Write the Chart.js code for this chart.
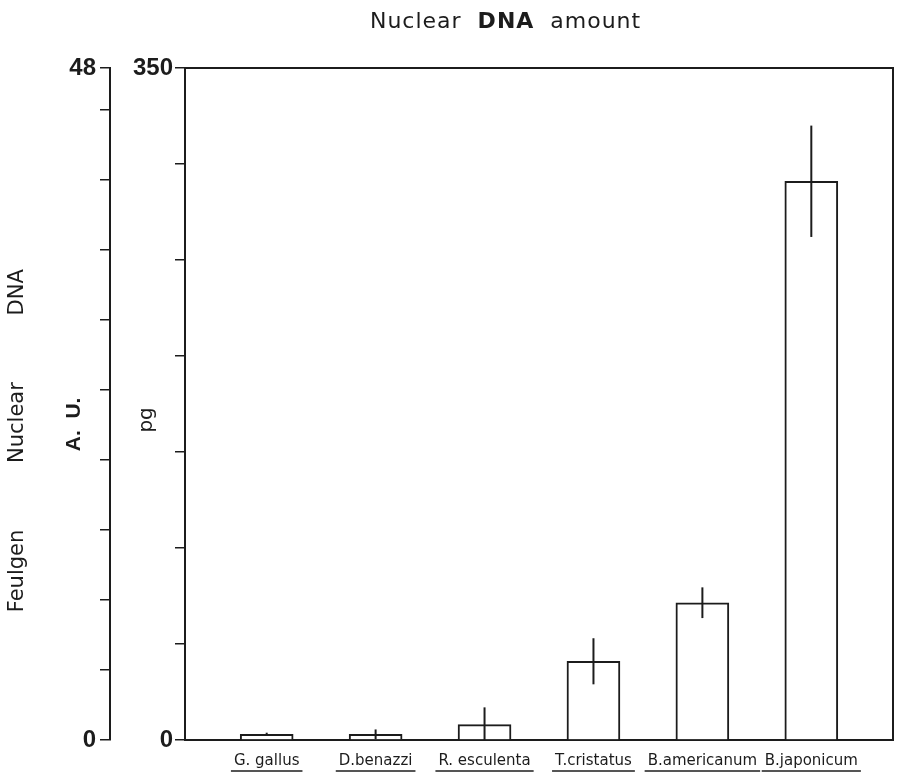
<!DOCTYPE html>
<html lang="en">
<head>
    <title>Nuclear DNA amount</title>
    <style>
        body { margin: 0; background: #fff; }
    </style>
</head>
<body>
<canvas id="dnaChart" width="898" height="774"></canvas>

<script src="https://cdn.jsdelivr.net/npm/chart.js"></script>
<script>
    // values (pg per nucleus)
    var species = ['G. gallus', 'D.benazzi', 'R. esculenta', 'T.cristatus', 'B.americanum', 'B.japonicum'];
    var dnaPg = [3, 3, 8, 41, 71.5, 291];
    var errPg = [0.8, 2.5, 9, 12, 8, 29];
    var pgTicks = [0, 50, 100, 150, 200, 250, 300, 350];
    var auTicks = [0, 5, 10, 15, 20, 25, 30, 35, 40, 45, 48];
    var pgLabels = [0, 350];
    var auLabels = [0, 48];

    var ink = '#1c1c1c';
    var sans = "'DejaVu Sans', sans-serif";
    var arial = "'Liberation Sans', Arial, sans-serif";
    var labelPad = 4;

    var barData = species.map(function (s, i) { return { x: i, y: dnaPg[i] }; });

    // error bars, box top/right, underlined species names, title
    var extras = {
        id: 'extras',
        afterDatasetsDraw: function (chart) {
            var ctx = chart.ctx, y = chart.scales.y;
            var meta = chart.getDatasetMeta(0);
            ctx.save();
            ctx.strokeStyle = ink;
            ctx.lineWidth = 2;
            meta.data.forEach(function (bar, i) {
                ctx.beginPath();
                ctx.moveTo(bar.x, y.getPixelForValue(dnaPg[i] + errPg[i]));
                ctx.lineTo(bar.x, y.getPixelForValue(Math.max(0, dnaPg[i] - errPg[i])));
                ctx.stroke();
            });
            var a = chart.chartArea;
            ctx.beginPath();
            ctx.moveTo(a.left, a.top);
            ctx.lineTo(a.right, a.top);
            ctx.lineTo(a.right, a.bottom);
            ctx.stroke();
            ctx.restore();
        },
        afterDraw: function (chart) {
            var ctx = chart.ctx, x = chart.scales.x;
            ctx.save();
            ctx.strokeStyle = ink;
            ctx.lineWidth = 1.5;
            ctx.font = '15px ' + sans;
            species.forEach(function (s, i) {
                var w = ctx.measureText(s).width;
                var px = x.getPixelForValue(i);
                var py = x.top + labelPad + 27;
                ctx.beginPath();
                ctx.moveTo(px - w / 2 - 3, py);
                ctx.lineTo(px + w / 2 + 3, py);
                ctx.stroke();
            });
            // title with bold DNA
            ctx.letterSpacing = '1px';
            var parts = [['Nuclear  ', 'normal'], ['DNA', 'bold'], ['  amount', 'normal']];
            var total = 0;
            parts.forEach(function (p) {
                ctx.font = p[1] + ' 22px ' + sans;
                p.push(ctx.measureText(p[0]).width);
                total += p[2];
            });
            var cx = chart.width * 0.563 - total / 2;
            ctx.fillStyle = ink;
            ctx.textBaseline = 'middle';
            parts.forEach(function (p) {
                ctx.font = p[1] + ' 22px ' + sans;
                ctx.fillText(p[0], cx, 22);
                cx += p[2];
            });
            ctx.restore();
        }
    };

    var chart = new Chart(document.getElementById('dnaChart'), {
        type: 'bar',
        data: {
            datasets: [{
                data: barData,
                backgroundColor: '#fff',
                borderColor: ink,
                borderWidth: 2,
                barThickness: 53,
                yAxisID: 'y'
            }]
        },
        options: {
            responsive: false,
            animation: false,
            layout: { padding: { top: 68, right: 5, bottom: 0, left: 0 } },
            plugins: { legend: { display: false }, tooltip: { enabled: false } },
            scales: {
                x: {
                    type: 'linear',
                    offset: false,
                    min: -0.75,
                    max: 5.75,
                    afterBuildTicks: function (ax) {
                        ax.ticks = species.map(function (s, i) { return { value: i }; });
                    },
                    afterFit: function (ax) { ax.height = 34; },
                    grid: { display: false },
                    border: { display: true, color: ink, width: 2 },
                    ticks: {
                        padding: labelPad,
                        maxRotation: 0,
                        autoSkip: false,
                        color: ink,
                        font: { family: sans, size: 15 },
                        callback: function (v) { return species[v]; }
                    }
                },
                y: {
                    type: 'linear',
                    position: 'left',
                    weight: 0,
                    min: 0,
                    max: 350,
                    afterBuildTicks: function (ax) {
                        ax.ticks = pgTicks.map(function (v) { return { value: v }; });
                    },
                    afterFit: function (ax) { ax.width = 75; },
                    grid: { drawOnChartArea: false, tickLength: 10, color: ink, lineWidth: 1.5 },
                    border: { color: ink, width: 2 },
                    ticks: {
                        padding: 2,
                        color: ink,
                        font: { family: arial, size: 24, weight: 'bold' },
                        callback: function (v) { return pgLabels.indexOf(v) >= 0 ? v : ''; }
                    },
                    title: {
                        display: true,
                        text: 'pg     ',
                        color: ink,
                        font: { family: sans, size: 20 },
                        padding: { top: 25, bottom: 0 }
                    }
                },
                au: {
                    type: 'linear',
                    position: 'left',
                    weight: 1,
                    min: 0,
                    max: 48,
                    afterBuildTicks: function (ax) {
                        ax.ticks = auTicks.map(function (v) { return { value: v }; });
                    },
                    afterFit: function (ax) { ax.width = 65; },
                    grid: { drawOnChartArea: false, tickLength: 10, color: ink, lineWidth: 1.5 },
                    border: { color: ink, width: 2 },
                    ticks: {
                        padding: 4,
                        color: ink,
                        font: { family: arial, size: 24, weight: 'bold' },
                        callback: function (v) { return auLabels.indexOf(v) >= 0 ? v : ''; }
                    },
                    title: {
                        display: true,
                        text: 'A.  U.       ',
                        color: ink,
                        font: { family: arial, size: 21, weight: 'bold' },
                        padding: { top: 17, bottom: 0 }
                    }
                },
                feulgen: {
                    type: 'linear',
                    position: 'left',
                    weight: 2,
                    min: 0,
                    max: 1,
                    afterFit: function (ax) { ax.width = 45; },
                    grid: { display: false },
                    border: { display: false },
                    ticks: { display: false },
                    title: {
                        display: true,
                        text: 'Feulgen          Nuclear          DNA           ',
                        color: ink,
                        font: { family: sans, size: 21 },
                        padding: { top: 5, bottom: 0 }
                    }
                }
            }
        },
        plugins: [extras]
    });
</script>
</body>
</html>
